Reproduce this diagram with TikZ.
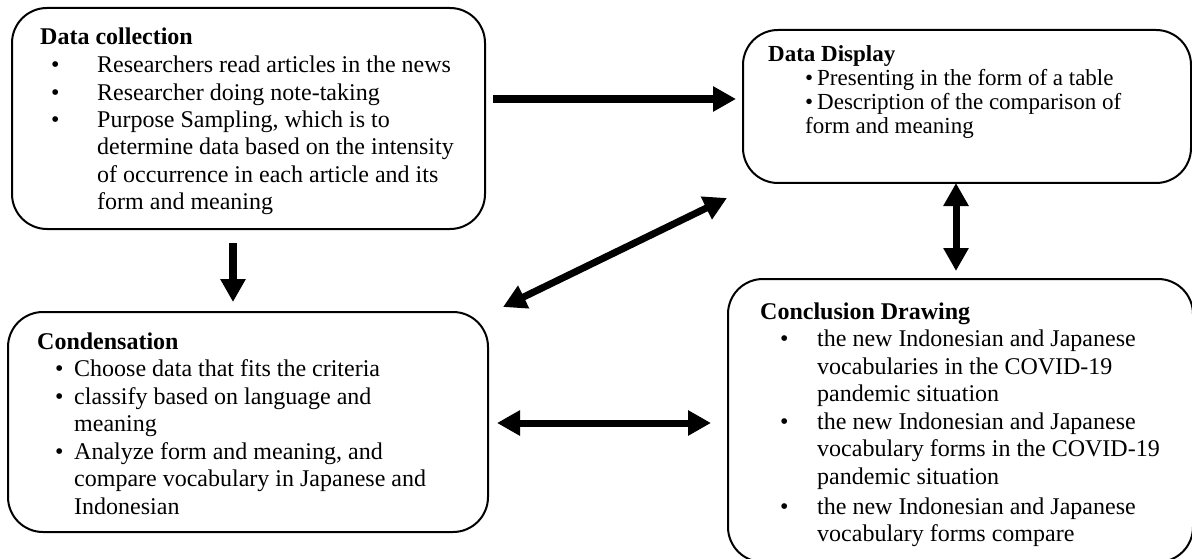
\documentclass[tikz,border=0pt]{standalone}
\usepackage{fontspec}
\setmainfont{Liberation Serif}
\usetikzlibrary{arrows.meta}
\newcommand{\bul}[3]{\makebox[#2pt][l]{\hspace*{#1pt}\textbullet}#3}
\newcommand{\cont}[2]{\hspace*{#1pt}#2}
\begin{document}
\begin{tikzpicture}[x=1pt,y=-1pt,
  box/.style={draw, line width=2pt, rounded corners=35pt, inner sep=0pt},
  txt/.style={anchor=base west, inner sep=0pt, align=left, font=\fontsize{24}{27.5}\selectfont},
  txtsmall/.style={anchor=base west, inner sep=0pt, align=left, font=\fontsize{23}{24}\selectfont},
  tipA/.tip={Triangle[length=23pt,width=24pt]},
  onearrow/.style={line width=7.5pt, -tipA},
  twoarrow/.style={line width=7pt, tipA-tipA}]
\useasboundingbox (0,0) rectangle (1192,559);

\node[box, minimum width=473pt, minimum height=221pt] (b1) at (248.5,118.5) {};
\node[box, minimum width=448pt, minimum height=153pt] (b2) at (967,106.5) {};
\node[box, minimum width=480pt, minimum height=220pt] (b3) at (248,422) {};
\node[box, minimum width=465pt, minimum height=283pt] (b4) at (960.5,420.5) {};

% anchor base west = baseline of the last line
\node[txt] (t1) at (40,210) {\textbf{Data collection}\\
\bul{11}{57}{Researchers read articles in the news}\\
\bul{11}{57}{Researcher doing note-taking}\\
\bul{11}{57}{Purpose Sampling, which is to}\\
\cont{57}{determine data based on the intensity}\\
\cont{57}{of occurrence in each article and its}\\
\cont{57}{form and meaning}};

\node[txtsmall] (t2) at (768,134) {\textbf{Data Display}\\
\bul{37}{49}{Presenting in the form of a table}\\
\bul{37}{49}{Description of the comparison of}\\
\cont{37}{form and meaning}};

\node[txt] (t3) at (37,514) {\textbf{Condensation}\\
\bul{18}{37}{Choose data that fits the criteria}\\
\bul{18}{37}{classify based on language and}\\
\cont{37}{meaning}\\
\bul{18}{37}{Analyze form and meaning, and}\\
\cont{37}{compare vocabulary in Japanese and}\\
\cont{37}{Indonesian}};

\node[txt] (t4) at (760,541.5) {\textbf{Conclusion Drawing}\\
\bul{20}{57}{the new Indonesian and Japanese}\\
\cont{57}{vocabularies in the COVID-19}\\
\cont{57}{pandemic situation}\\
\bul{20}{57}{the new Indonesian and Japanese}\\
\cont{57}{vocabulary forms in the COVID-19}\\
\cont{57}{pandemic situation}\\[2.5pt]
\bul{20}{57}{the new Indonesian and Japanese}\\
\cont{57}{vocabulary forms compare}};

\draw[onearrow] ([xshift=7pt,yshift=19.5pt]b1.east) -- ([xshift=-6pt,yshift=7.5pt]b2.west);
\draw[onearrow] ([xshift=-15.5pt,yshift=-13pt]b1.south) -- ([xshift=-15pt,yshift=9pt]b3.north);
\draw[twoarrow] ([xshift=-15pt,yshift=-14pt]b2.south west) -- ([xshift=14pt,yshift=4pt]b3.north east);
\draw[twoarrow] ([xshift=-11pt,yshift=1pt]b2.south) -- ([xshift=-4.5pt,yshift=7pt]b4.north);
\draw[twoarrow] ([xshift=8pt,yshift=-1pt]b3.east) -- ([xshift=-16pt,yshift=-2.5pt]b4.west);
\end{tikzpicture}
\end{document}
